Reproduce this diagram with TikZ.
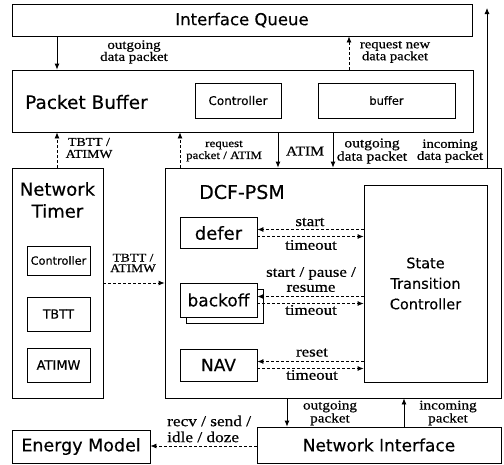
\documentclass[tikz,border=0pt]{standalone}
\usepackage{fontspec}
\setmainfont[FakeBold=0.3]{DejaVu Sans}
\newfontfamily\lblfont[FakeStretch=1.15,FakeBold=0.6]{Liberation Serif}
\usetikzlibrary{arrows.meta,calc}

\tikzset{
  box/.style={draw, line width=0.8pt, inner sep=0pt, fill=white,
              minimum width=#1},
  sans/.style 2 args={font=\fontsize{#1}{#2}\selectfont, align=center},
  lab/.style 2 args={font=\lblfont\fontsize{#1}{#2}\selectfont,
                     align=center, inner sep=0pt},
  flow/.style={draw, line width=0.8pt, -{Latex[length=6pt,width=5pt]}},
  ctrl/.style={flow, dash pattern=on 3pt off 2pt},
}

\begin{document}
\begin{tikzpicture}[x=1pt,y=-1pt]
\useasboundingbox (0,0) rectangle (504,464);

% ---------- upper layer ----------
\node[box=460pt, minimum height=32pt, sans={16.5}{20}] (iq) at (242,20) {Interface Queue};

% ---------- packet buffer ----------
\node[box=461pt, minimum height=62pt] (pb) at (242.5,101) {};
\node[sans={18.5}{22}, anchor=west, inner sep=0pt] (pbtitle) at (25,102) {Packet Buffer};
\node[box=86pt, minimum height=35pt, sans={12}{14}] (pbctl) at (238,100.5) {Controller};
\node[box=137pt, minimum height=35pt, sans={11.5}{14}] (buf) at (386.5,100.5) {buffer};

% ---------- network timer ----------
\node[box=91pt, minimum height=230pt] (nt) at (57.5,283) {};
\node[sans={18}{22}, inner sep=0pt] (nttitle) at (57.5,200) {Network\\Timer};
\node[box=63pt, minimum height=29pt, sans={11.3}{14}] (ntctl) at (58.5,260.5) {Controller};
\node[box=63pt, minimum height=34pt, sans={12.5}{14}] (tbtt) at (58.5,314) {TBTT};
\node[box=63pt, minimum height=34pt, sans={13}{14}] (atimw) at (58.5,365) {ATIMW};

% ---------- DCF-PSM ----------
\node[box=336pt, minimum height=230pt] (dcf) at (333,283) {};
\node[sans={19}{22}, inner sep=0pt] (dcftitle) at (242,192) {DCF-PSM};
\node[box=77pt, minimum height=31pt, sans={18}{20}] (defer) at (218.5,233) {defer};
\node[box=77pt, minimum height=34pt] (backoffb) at (224.5,306) {};
\node[box=77pt, minimum height=34pt, sans={17}{20}] (backoff) at (218.5,300) {backoff};
\node[box=77pt, minimum height=32pt, sans={17}{20}] (nav) at (218.5,365) {NAV};
\node[box=123pt, minimum height=197pt, sans={14.5}{20.5}] (stc) at (425.5,283.5)
     {State\\Transition\\Controller};

% ---------- bottom row ----------
\node[box=244pt, minimum height=36pt, sans={17}{20}] (ni) at (379,445) {Network Interface};
\node[box=138pt, minimum height=33pt, sans={17.5}{20}] (em) at (81,446.5) {Energy Model};

% ---------- helper positions for connectors ----------
\coordinate (v1) at (57,0);
\coordinate (v2) at (349,0);
\coordinate (v3) at (180,0);
\coordinate (v4) at (278,0);
\coordinate (v5) at (333,0);
\coordinate (v6) at (487,0);
\coordinate (v7) at (287,0);
\coordinate (v8) at (404,0);
\coordinate (upper) at (487,8);
\coordinate (d1) at ($(defer.east)+(0,-3.5)$);
\coordinate (d2) at ($(defer.east)+(0,3.5)$);
\coordinate (b1) at ($(backoff.east)+(0,-3.5)$);
\coordinate (b2) at ($(backoff.east)+(0,3.5)$);
\coordinate (n1) at ($(nav.east)+(0,-3.5)$);
\coordinate (n2) at ($(nav.east)+(0,3.5)$);
\coordinate (h1) at (0,446);

% ---------- queue <-> buffer ----------
\draw[flow] (iq.south -| v1) -- (pb.north -| v1);
\node[lab={13}{12}] (l1) at (134,52) {outgoing\\data packet};
\draw[ctrl] (pb.north -| v2) -- (iq.south -| v2);
\node[lab={12.7}{12}] (l2) at (395,52) {request new\\data packet};

% ---------- buffer <-> timer / DCF-PSM ----------
\draw[ctrl] (nt.north -| v1) -- (pb.south -| v1);
\node[lab={12}{12}] (l3) at (89,148) {TBTT /\\ATIMW};
\draw[ctrl] (dcf.north -| v3) -- (pb.south -| v3);
\node[lab={11.3}{12}] (l4) at (224,151) {request\\packet / ATIM};
\draw[flow] (pb.south -| v4) -- (dcf.north -| v4);
\node[lab={13.5}{12}] (l5) at (305,151) {ATIM};
\draw[flow] (pb.south -| v5) -- (dcf.north -| v5);
\node[lab={13.5}{12}] (l6) at (372,151) {outgoing\\data packet};
\draw[flow] (dcf.north -| v6) -- (upper);
\node[lab={12.7}{12}] (l7) at (450,151) {incoming\\data packet};

% ---------- timer -> DCF-PSM ----------
\draw[ctrl] (nt.east) -- (dcf.west);
\node[lab={11.7}{10.5}] (l8) at (133,263) {TBTT /\\ATIMW};

% ---------- inside DCF-PSM ----------
\draw[ctrl] (d1 -| stc.west) -- (d1);
\draw[ctrl] (d2) -- (d2 -| stc.west);
\node[lab={14.7}{15}] (l9) at (310,222) {start};
\node[lab={14.7}{15}] (l10) at (311,245) {timeout};

\draw[ctrl] (b1 -| stc.west) -- (b1);
\draw[ctrl] (b2) -- (b2 -| stc.west);
\node[lab={14.7}{15}] (l11) at (311,279.5) {start / pause /\\resume};
\node[lab={14.7}{15}] (l12) at (311,310) {timeout};

\draw[ctrl] (n1 -| stc.west) -- (n1);
\draw[ctrl] (n2) -- (n2 -| stc.west);
\node[lab={14.7}{15}] (l13) at (312,352.5) {reset};
\node[lab={14.7}{15}] (l14) at (312,375) {timeout};

% ---------- DCF-PSM <-> network interface ----------
\draw[flow] (dcf.south -| v7) -- (ni.north -| v7);
\node[lab={13.2}{13}] (l15) at (330,413) {outgoing\\packet};
\draw[flow] (ni.north -| v8) -- (dcf.south -| v8);
\node[lab={13.2}{13}] (l16) at (448,413) {incoming\\packet};

% ---------- network interface -> energy model ----------
\draw[ctrl] (ni.west |- h1) -- (em.east |- h1);
\node[lab={15}{16}, align=left, anchor=west] (l17) at (167,429) {recv / send /\\idle / doze};
\end{tikzpicture}
\end{document}
